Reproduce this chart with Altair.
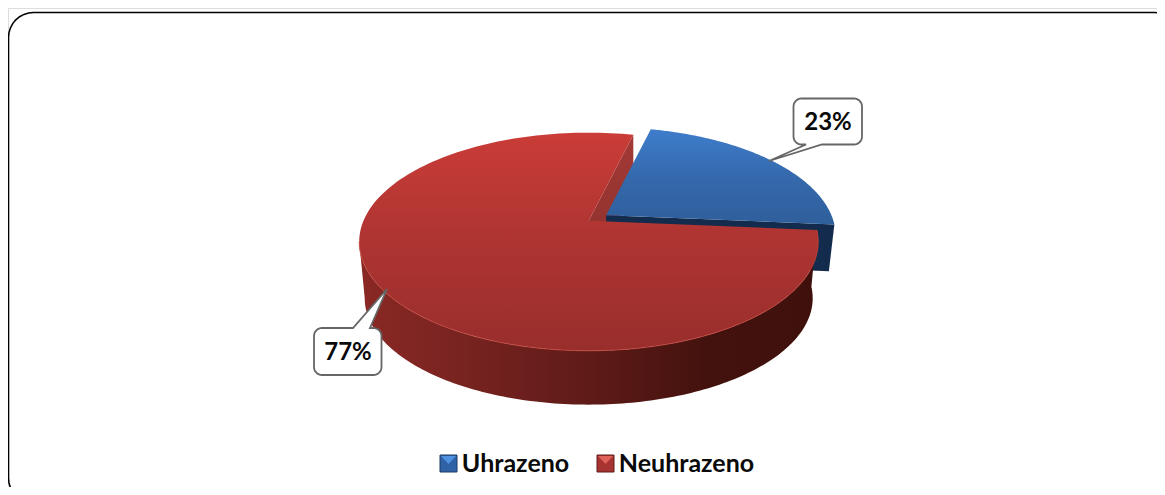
import math
import altair as alt

# ---- chart values -------------------------------------------------------
categories = ["Uhrazeno", "Neuhrazeno"]
shares = [0.226, 0.774]
labels = [f"{round(s * 100)}%" for s in shares]

# ---- layout -------------------------------------------------------------
W, H = 1149, 479
OX, OY = 8, 8              # page offset of the view
FONT = "Lato"
START = 13.6               # clock angle where first slice starts
AX, AY = 588.7, 220.7      # pie apex on the page
RX, RY, K = 225.2, 105.0, 0.1927   # perspective of the pie plane
DEPTH, SHRINK = 57.0, 0.976
EXPLODE = (17.5, -5.5)
BLUE_DEPTH = 47.0


def P(x, y):
    return [x - OX, y - OY]


def pie(phi, dx=0.0, dy=0.0, c=1.0):
    a = math.radians(phi)
    u, v = math.sin(a), -math.cos(a)
    w = 1 - K * v
    return P(AX + dx + c * RX * u / w, AY + dy + c * RY * v / w)


def arc(a0, a1, dx=0.0, dy=0.0, c=1.0, n=160):
    return [pie(a0 + (a1 - a0) * i / n, dx, dy, c) for i in range(n + 1)]


def poly(points):
    pts = list(points)
    if pts[0] != pts[-1]:
        pts = pts + [pts[0]]
    return {"type": "Feature", "properties": {}, "geometry": {"type": "Polygon", "coordinates": [pts]}}


def line(points):
    return {"type": "Feature", "properties": {}, "geometry": {"type": "LineString", "coordinates": list(points)}}


def rounded(x0, y0, x1, y1, r, tail=None):
    """Rounded box on the page; tail = (side, base_a, base_b, tip_x, tip_y)."""
    def corner(cx, cy, a0):
        return [P(cx + r * math.cos(math.radians(a0 + 90 * i / 8)),
                  cy + r * math.sin(math.radians(a0 + 90 * i / 8))) for i in range(9)]
    top = []
    bottom = []
    if tail and tail[0] == "top":
        top = [P(tail[1], y0), P(tail[3], tail[4]), P(tail[2], y0)]
    if tail and tail[0] == "bottom":
        bottom = [P(tail[2], y1), P(tail[3], tail[4]), P(tail[1], y1)]
    return (corner(x0 + r, y0 + r, 180) + top + corner(x1 - r, y0 + r, 270)
            + corner(x1 - r, y1 - r, 0) + bottom + corner(x0 + r, y1 - r, 90))


def grad(stops, horizontal=False):
    return alt.Gradient(
        gradient="linear",
        x1=0, y1=0, x2=1 if horizontal else 0, y2=0 if horizontal else 1,
        stops=[alt.GradientStop(offset=o, color=c) for o, c in stops],
    )


def shape(feature, **mark):
    return (alt.Chart(alt.Data(values=[feature])).mark_geoshape(**mark)
            .project(type="identity", scale=1, translate=[0, 0]))


# slice angles come from the shares
blue_end = START + 360 * shares[0]
red_end = blue_end + 360 * shares[1]
ex, ey = EXPLODE

apex = pie(0, 0, 0, 0)
blue_apex = pie(0, ex, ey, 0)

layers = []

# notch wall of the red slice
corner_top = pie(START)
notch = poly([apex, corner_top, [corner_top[0], corner_top[1] + DEPTH], [apex[0], apex[1] + DEPTH]])
layers.append(shape(notch, fill=grad([(0, "#a33a36"), (1, "#8a2f2b")]), strokeWidth=0))

# blue slice: wall then top
bc = pie(blue_end, ex, ey)
bc_low = pie(blue_end, ex, ey + BLUE_DEPTH, SHRINK)
blue_wall = poly([blue_apex, bc, bc_low, [blue_apex[0], blue_apex[1] + BLUE_DEPTH]])
layers.append(shape(blue_wall, fill="#132b4c", strokeWidth=0))
blue_top = poly([blue_apex] + arc(START, blue_end, ex, ey))
layers.append(shape(blue_top, fill=grad([(0, "#3e7dcb"), (0.5, "#3569ad"), (1, "#2f5f9b")]), strokeWidth=0))

# red slice: wall then top
LEFT_PHI = 259
wall_top = arc(blue_end, LEFT_PHI)
wall_low = arc(LEFT_PHI, blue_end, 0, DEPTH, SHRINK)
red_wall = poly(wall_top + wall_low)
layers.append(shape(red_wall, fill=grad([
    (0, "#8a2824"), (0.2, "#7a2421"), (0.5, "#5f1b18"), (0.75, "#44120e"), (1, "#3e100c")], True), strokeWidth=0))
red_top = poly([apex] + arc(blue_end, red_end))
layers.append(shape(red_top, fill=grad([(0, "#ca3c38"), (0.45, "#b03532"), (1, "#982e2c")]), strokeWidth=0))
layers.append(shape(line(arc(blue_end, LEFT_PHI)), filled=False, stroke="#c8483f", strokeWidth=1, strokeOpacity=0.8))

# call-outs
GREY = "#666666"
box_blue = rounded(793.5, 98.5, 862, 144.5, 8, ("bottom", 806, 822, 769, 161))
box_red = rounded(314, 328, 381.5, 375, 8, ("top", 353, 370, 387, 289))
layers.append(shape(poly(box_blue), fill="white", stroke=GREY, strokeWidth=1.8))
layers.append(shape(poly(box_red), fill="white", stroke=GREY, strokeWidth=1.8))

# frame line, running past the window at right and bottom
border = rounded(8.5, 12.5, 1180.0, 503.0, 25.0)
layers.append(shape(poly(border), filled=False, stroke="black", strokeWidth=1.6, clip=True))


# legend swatches
def swatch(x, body, tip, edge):
    y0, y1 = 455, 472
    x1 = x + 17
    return [
        shape(poly([P(x, y0), P(x1, y0), P(x1, y1), P(x, y1)]), fill=body, stroke=edge, strokeWidth=1),
        shape(poly([P(x + 1, y0 + 1), P(x1 - 1, y0 + 1), P(x + 8.5, y0 + 9)]), fill=tip, strokeWidth=0),
    ]


layers += swatch(440, "#2f62a6", "#4f93e0", "#1a3a62")
layers += swatch(597, "#a83432", "#e0605a", "#5e1a18")


def text(value, x, y, size):
    return alt.Chart(alt.Data(values=[{"t": value}])).mark_text(
        font=FONT, fontWeight="bold", fontSize=size, color="#0a0a0a", align="center", baseline="middle"
    ).encode(text="t:N", x=alt.value(x - OX), y=alt.value(y - OY))


layers.append(text(labels[0], 828, 122.5, 24))
layers.append(text(labels[1], 348, 352.5, 24))
layers.append(text(categories[0], 515.5, 463.5, 25))
layers.append(text(categories[1], 686.5, 463.5, 25))

chart = alt.layer(*layers).properties(width=W, height=H, padding=0).configure_view(stroke=None).configure(background="white")
chart.save("out.html", embed_options={"renderer": "svg", "actions": False})
